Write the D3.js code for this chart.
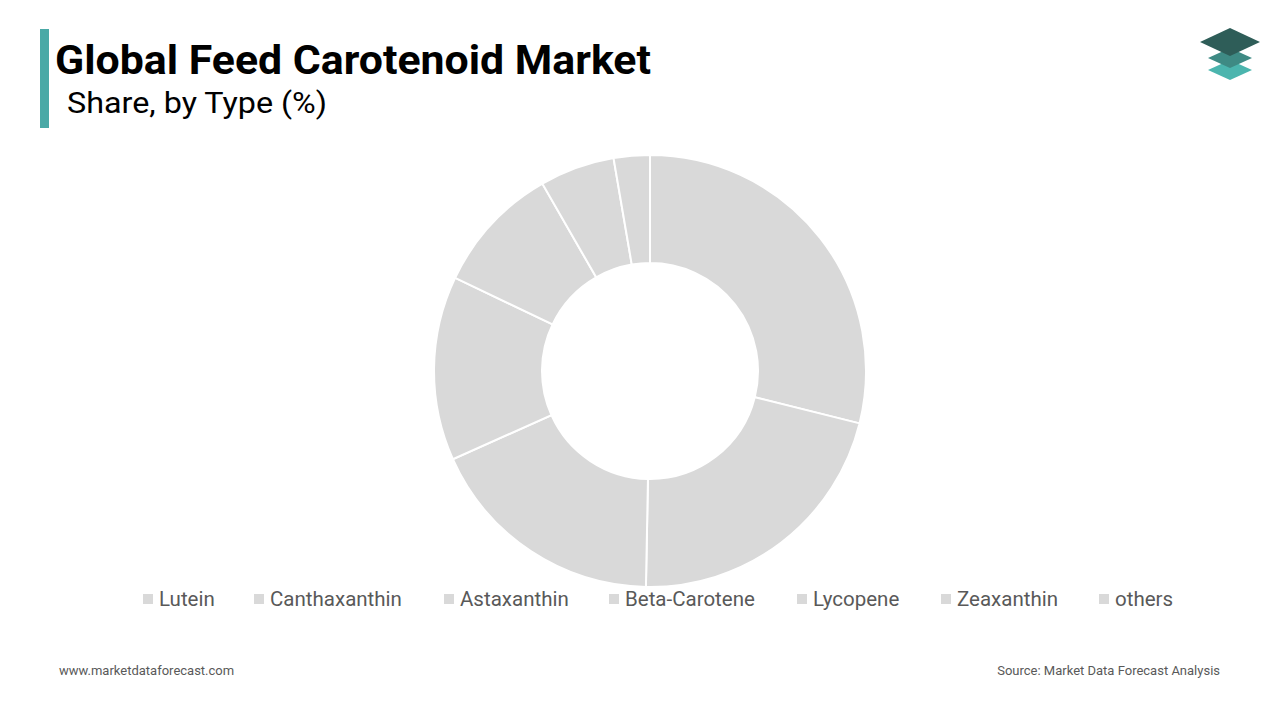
<!DOCTYPE html>
<html><head><meta charset="utf-8">
<script src="https://cdn.jsdelivr.net/npm/d3@7"></script>
<style>body{margin:0;background:#fff;font-family:Roboto,sans-serif}</style>
</head><body>
<svg id="c" width="1280" height="720"></svg>
<script>
const categories=["Lutein","Canthaxanthin","Astaxanthin","Beta-Carotene","Lycopene","Zeaxanthin","others"];
const values=[28.9,21.4,18.0,13.8,9.6,5.6,2.7];
const svg=d3.select("#c");
svg.append("rect").attr("x",40).attr("y",29).attr("width",9).attr("height",99).attr("fill","#4aa9a6");
svg.append("text").attr("x",55).attr("y",74).attr("font-size",40).attr("font-weight","bold").attr("fill","#000").attr("textLength",596).attr("lengthAdjust","spacingAndGlyphs").text("Global Feed Carotenoid Market");
svg.append("text").attr("x",67).attr("y",113).attr("font-size",30).attr("fill","#000").attr("textLength",260).attr("lengthAdjust","spacingAndGlyphs").text("Share, by Type (%)");
const lg=svg.append("g");
[[70,"#4bb5ae"],[58,"#3e8a84"],[42,"#2e5d58"]].forEach(([y,c],i)=>{
 const w=i==2?30:22,h=i==2?14:10;
 lg.append("path").attr("d",`M${1230-w},${y} L1230,${y-h} L${1230+w},${y} L1230,${y+h}Z`).attr("fill",c);
});
const pie=d3.pie().sort(null).value(d=>d);
const arc=d3.arc().innerRadius(108).outerRadius(216);
const g=svg.append("g").attr("transform","translate(650,371)");
g.selectAll("path").data(pie(values)).join("path").attr("d",arc).attr("fill","#d9d9d9").attr("stroke","#fff").attr("stroke-width",2);
const xs=[143,254,444,609,797,941,1099];
const leg=svg.append("g");
categories.forEach((c,i)=>{
 leg.append("rect").attr("x",xs[i]).attr("y",594).attr("width",10).attr("height",10).attr("fill","#d9d9d9");
 leg.append("text").attr("x",xs[i]+16).attr("y",606).attr("font-size",20.5).attr("fill","#595959").text(c);
});
svg.append("text").attr("x",59).attr("y",675).attr("font-size",13).attr("fill","#595959").text("www.marketdataforecast.com");
svg.append("text").attr("x",1220).attr("y",675).attr("font-size",13).attr("fill","#595959").attr("text-anchor","end").text("Source: Market Data Forecast Analysis");
</script></body></html>
